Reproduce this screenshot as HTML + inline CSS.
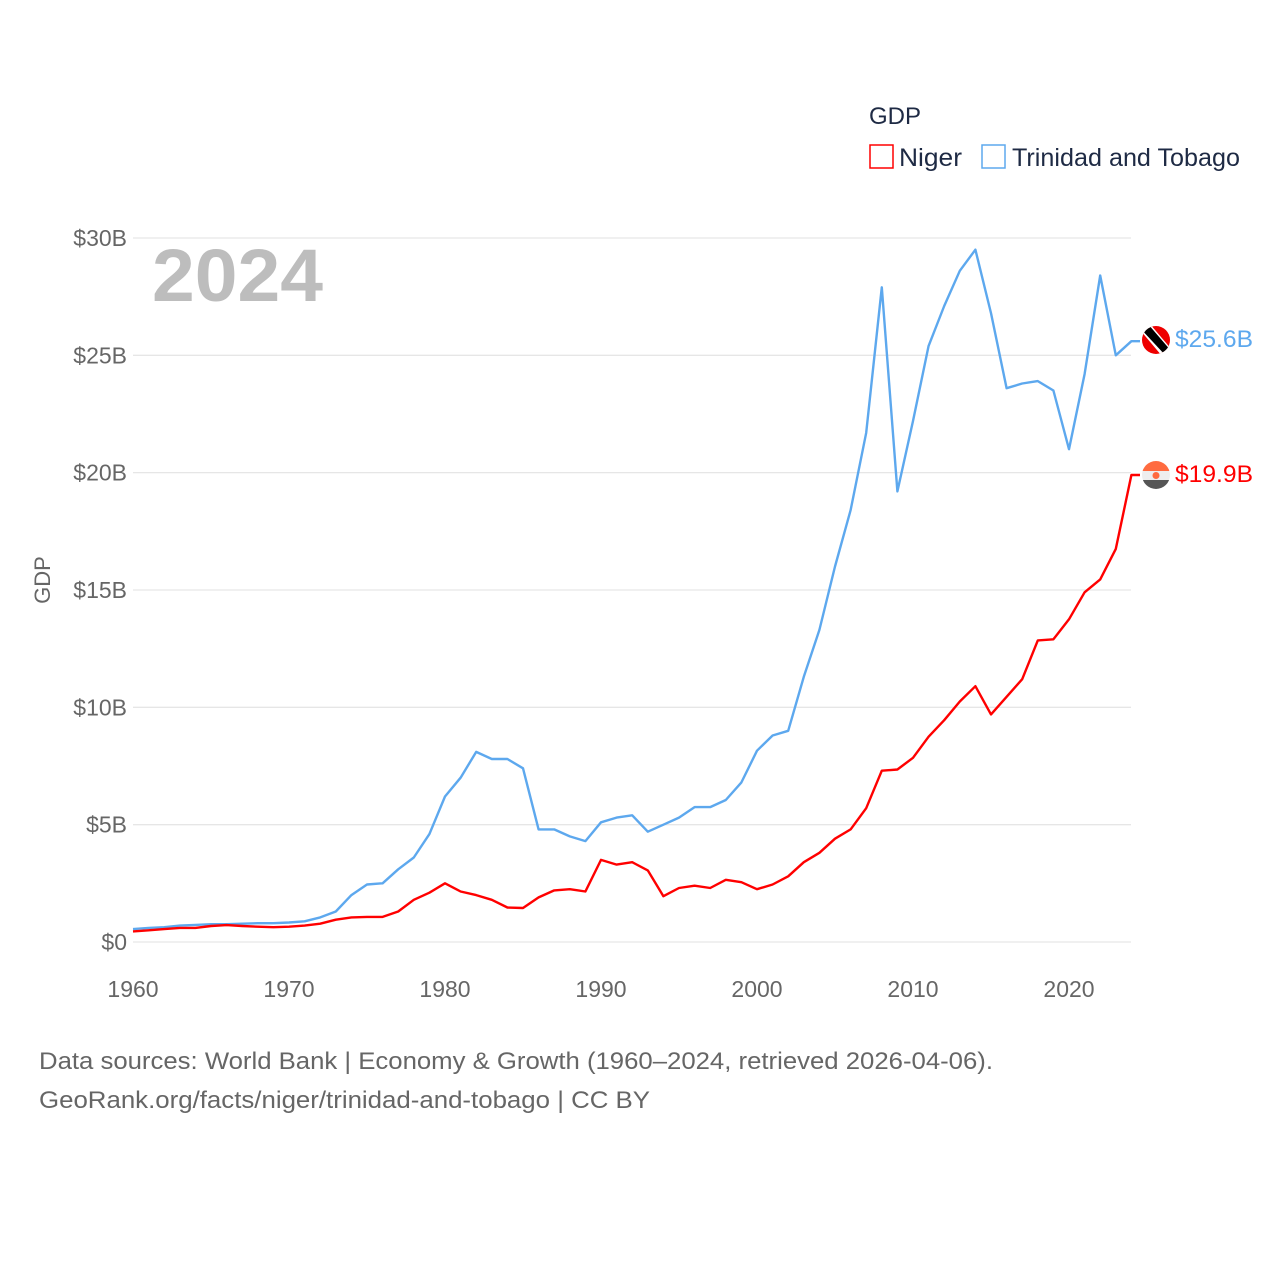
<!DOCTYPE html>
<html><head><meta charset="utf-8"><style>
body{margin:0;background:#fff;}
svg text{font-family:"Liberation Sans",sans-serif;}
</style></head><body>
<svg id="chart" width="1280" height="1280" viewBox="0 0 1280 1280">
<g id="grid"></g>
<g id="yticks"></g>
<g id="xticks"></g>
<text x="152" y="301" font-size="74" font-weight="bold" fill="#bdbdbd" textLength="171" lengthAdjust="spacingAndGlyphs">2024</text>
<text transform="translate(50,580) rotate(-90)" text-anchor="middle" font-size="22" fill="#666">GDP</text>
<g id="lines"></g>
<g>
<text x="869" y="124" font-size="24" fill="#1e2a44">GDP</text>
<g><rect x="870" y="145" width="23" height="23" fill="none" stroke="#ff0000" stroke-width="1.5"/><text x="899" y="166" font-size="25" fill="#1e2a44" textLength="63" lengthAdjust="spacingAndGlyphs">Niger</text></g>
<g><rect x="982" y="145" width="23" height="23" fill="none" stroke="#5da8ee" stroke-width="1.5"/><text x="1012" y="166" font-size="25" fill="#1e2a44" textLength="228" lengthAdjust="spacingAndGlyphs">Trinidad and Tobago</text></g>
</g>
<g>
<clipPath id="c1"><circle cx="1156" cy="340" r="14"/></clipPath>
<g clip-path="url(#c1)"><rect x="1140" y="324" width="32" height="32" fill="#e00"/><path d="M1140,324 L1150,324 L1172,350 L1172,356 L1162,356 L1140,330Z" fill="#fff"/><path d="M1142,324 L1148,324 L1172,352 L1172,356 L1166,356 L1140,328Z" fill="#000"/></g></g>
<g>
<clipPath id="c2"><circle cx="1156" cy="475" r="14"/></clipPath>
<g clip-path="url(#c2)"><rect x="1140" y="461" width="32" height="10" fill="#ff6b40"/><rect x="1140" y="471" width="32" height="9" fill="#eee"/><rect x="1140" y="480" width="32" height="10" fill="#555"/><circle cx="1156" cy="475.5" r="3.5" fill="#ff6b40"/></g></g>
<text x="1175" y="347" font-size="24" fill="#5da8ee" textLength="78" lengthAdjust="spacingAndGlyphs">$25.6B</text>
<text x="1175" y="482" font-size="24" fill="#ff0000" textLength="78" lengthAdjust="spacingAndGlyphs">$19.9B</text>
<text x="39" y="1069" font-size="24" fill="#666" textLength="954" lengthAdjust="spacingAndGlyphs">Data sources: World Bank | Economy &amp; Growth (1960–2024, retrieved 2026-04-06).</text>
<text x="39" y="1108" font-size="24" fill="#666" textLength="611" lengthAdjust="spacingAndGlyphs">GeoRank.org/facts/niger/trinidad-and-tobago | CC BY</text>
</svg>
<script>
const startYear = 1960;
const trinidad = [0.55,0.6,0.63,0.7,0.73,0.76,0.76,0.78,0.8,0.8,0.83,0.88,1.05,1.3,2.0,2.45,2.5,3.1,3.6,4.6,6.2,7.0,8.1,7.8,7.8,7.4,4.8,4.8,4.5,4.3,5.1,5.3,5.4,4.7,5.0,5.3,5.75,5.75,6.05,6.8,8.15,8.8,9.0,11.3,13.3,16.0,18.4,21.7,27.9,19.2,22.2,25.4,27.1,28.6,29.5,26.8,23.6,23.8,23.9,23.5,21.0,24.2,28.4,25.0,25.6];
const niger = [0.45,0.5,0.55,0.6,0.6,0.68,0.72,0.68,0.65,0.63,0.65,0.7,0.78,0.95,1.05,1.07,1.07,1.3,1.8,2.1,2.5,2.15,2.0,1.8,1.47,1.45,1.9,2.2,2.25,2.15,3.5,3.3,3.4,3.05,1.95,2.3,2.4,2.3,2.65,2.55,2.25,2.45,2.8,3.4,3.8,4.4,4.8,5.7,7.3,7.35,7.85,8.75,9.45,10.25,10.9,9.7,10.45,11.2,12.85,12.9,13.75,14.9,15.45,16.75,19.9];
const yTicks = [0,5,10,15,20,25,30];
const yTickLabels = ["$0","$5B","$10B","$15B","$20B","$25B","$30B"];
const xTicks = [1960,1970,1980,1990,2000,2010,2020];
const NS='http://www.w3.org/2000/svg';
const x = yr => 133 + (yr-1960)*15.6;
const y = v => 942 - v*23.467;
function mk(tag, attrs, parent){const e=document.createElementNS(NS,tag);for(const k in attrs)e.setAttribute(k,attrs[k]);parent.appendChild(e);return e;}
const grid=document.getElementById('grid'), yt=document.getElementById('yticks'), xt=document.getElementById('xticks'), lines=document.getElementById('lines');
yTicks.forEach((v,i)=>{
  const l=mk('line',{x1:133,x2:1131,y1:y(v),y2:y(v),stroke:'#e6e6e6','stroke-width':1.3},grid);
  
  
  const t=mk('text',{x:127,y:y(v)+8,'text-anchor':'end','font-size':23,fill:'#666'},yt);
  t.textContent=yTickLabels[i];
  
  
});
xTicks.forEach(v=>{
  const t=mk('text',{x:x(v),y:997,'text-anchor':'middle','font-size':23,fill:'#666'},xt);
  t.textContent=v;
  
  
});
function series(data,color,name){
  let d=data.map((v,i)=>(i?'L':'M')+x(startYear+i).toFixed(1)+','+y(v).toFixed(1)).join(' ');
  d+=' L1140,'+y(data[data.length-1]).toFixed(1);
  const p=mk('path',{d:d,fill:'none',stroke:color,'stroke-width':2.4,'stroke-linejoin':'round'},lines);
  
  
}
series(trinidad,'#5da8ee','line-trinidad');
series(niger,'#ff0000','line-niger');
</script>
</body></html>
